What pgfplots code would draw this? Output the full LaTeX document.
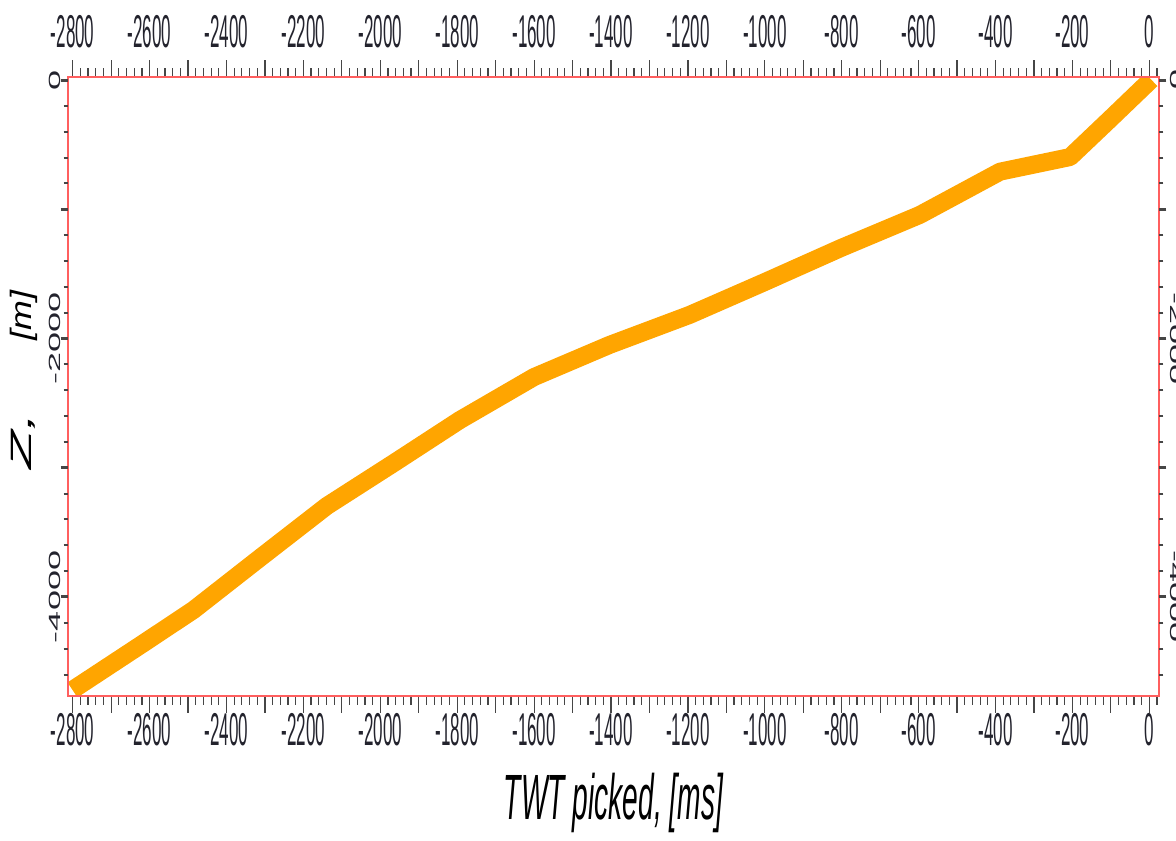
\documentclass[border=0pt]{standalone}
\usepackage{pgfplots}
\pgfplotsset{compat=1.18}
\usepackage{fontspec}
\setmainfont{Liberation Sans}

\definecolor{framered}{RGB}{255,95,95}
\definecolor{curveorange}{RGB}{255,165,0}
\definecolor{ticktext}{RGB}{35,35,45}
\definecolor{tickgray}{RGB}{70,70,70}

% narrow tick numbers: horizontal ones squeezed sideways,
% rotated ones squeezed across their height
\newcommand{\xnum}[1]{{\fontsize{23}{23}\selectfont\scalebox{0.37}[1]{\pgfmathprintnumber[assume math mode=true,1000 sep={}]{#1}}}}
\newcommand{\ynum}[1]{{\fontsize{18}{18}\selectfont\scalebox{1}[0.45]{\pgfmathprintnumber[assume math mode=true,1000 sep={}]{#1}}}}

% picked two-way time [ms] against depth Z [m]
\pgfplotstableread{
t      z
-2781  -4681
-2616  -4358
-2486  -4101
-2313  -3698
-2139  -3296
-1966  -2966
-1793  -2631
-1600  -2298
-1404  -2050
-1196  -1818
-1000  -1563
-802   -1300
-597   -1044
-388   -709
-206   -596
-102   -302
-12    -45
}\twtdepth

\pgfplotsset{
  twt box/.style={
    scale only axis, width=545.8pt, height=309.2pt,
    xmin=-2813, xmax=26, ymin=-4764, ymax=21,
    at={(0,0)}, anchor=south west,
    tick align=outside,
    /pgf/number format/1000 sep={},
  },
}

\begin{document}
\begin{tikzpicture}
% curve, frame, x ticks on both sides, labels below
\begin{axis}[twt box,
  axis on top,
  axis line style={framered, line width=1pt},
  xtick={-2800,-2700,...,0},
  minor xtick={-2800,-2780,...,20},
  ytick=\empty,
  major tick length=8.5pt, minor tick length=4.5pt,
  tick style={tickgray, line width=0.6pt},
  xticklabel={\ifodd\ticknum\else\xnum{\tick}\fi},
  xticklabel style={ticktext, inner sep=0pt, anchor=north},
  xlabel={\fontsize{32}{32}\selectfont\itshape\scalebox{0.44}[1]{TWT picked, [ms]}},
  xlabel style={at={(axis description cs:0.5,0)}, anchor=north, inner sep=0pt, yshift=-38.6pt, black},
]
\addplot[curveorange, line width=9pt, line join=round, line cap=rect] table[x=t,y=z] {\twtdepth};
\end{axis}
% y ticks on both sides, labels on the left
\begin{axis}[twt box,
  axis line style={draw=none},
  xtick=\empty,
  ytick={-4000,-3000,...,0},
  minor ytick={-4600,-4400,...,0},
  major tick length=3.5pt, minor tick length=2pt,
  major tick style={tickgray, line width=1.5pt},
  minor tick style={tickgray, line width=1pt},
  yticklabel={\ifodd\ticknum\else\ynum{\tick}\fi},
  yticklabel style={ticktext, rotate=90, anchor=south, inner sep=0pt},
  ylabel={\fontsize{32}{32}\selectfont\itshape\scalebox{1}[0.46]{Z,\hspace{1.14em}\scalebox{0.56}[1]{[m]}}},
  ylabel style={at={([xshift=-15pt,yshift=3.2pt]axis description cs:0,0.5)}, anchor=south, inner sep=0pt, black},
]
\end{axis}
% tick numbers repeated on top and on the right
\begin{axis}[twt box,
  axis line style={draw=none},
  xtick={-2800,-2600,...,0},
  ytick={-4000,-2000,0},
  major tick length=0pt, tick style={draw=none},
  xticklabel pos=upper, yticklabel pos=right,
  xticklabel={\xnum{\tick}},
  yticklabel={\ynum{\tick}},
  xticklabel style={ticktext, anchor=south, inner sep=0pt, yshift=14.6pt},
  yticklabel style={ticktext, rotate=-90, anchor=south, inner sep=0pt},
  yticklabel shift=5.3pt,
]
\end{axis}
\pgfresetboundingbox
\useasboundingbox (-33.85pt,-72.15pt) rectangle (554.15pt,347.85pt);
\end{tikzpicture}
\end{document}
